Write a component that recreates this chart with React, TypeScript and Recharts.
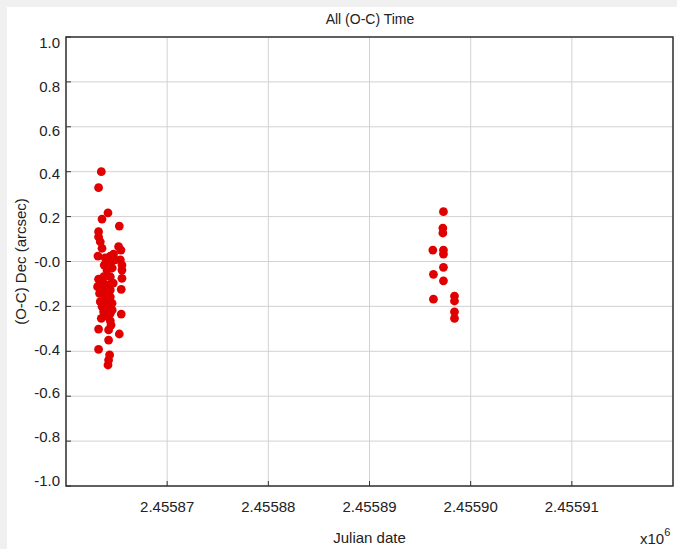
import {
  CartesianGrid, ReferenceArea, Scatter, ScatterChart, XAxis, YAxis,
} from "recharts";

// Julian dates and Dec residuals (arcsec)
const EARLY_JD = [
  2455863.49, 2455863.22, 2455864.15, 2455863.56, 2455865.27, 2455863.22, 2455863.22,
  2455863.39, 2455863.56, 2455865.20, 2455865.43, 2455863.16, 2455864.38, 2455864.70,
  2455864.87, 2455865.37, 2455865.53, 2455864.38, 2455864.05, 2455865.53, 2455865.53,
  2455863.22, 2455863.72, 2455864.38, 2455863.12, 2455863.72, 2455864.21, 2455864.38,
  2455865.46, 2455863.32, 2455863.88, 2455864.38, 2455863.39, 2455864.05, 2455864.55,
  2455863.56, 2455864.21, 2455864.38, 2455865.46, 2455863.72, 2455863.49, 2455864.38,
  2455863.22, 2455864.45, 2455864.21, 2455865.27, 2455864.21, 2455863.22, 2455864.31,
  2455864.21, 2455864.15, 2455863.88, 2455864.18, 2455864.57, 2455863.78, 2455864.08,
  2455864.57, 2455863.98, 2455864.67, 2455863.78,
];
const EARLY_DEC = [
  0.400, 0.329, 0.217, 0.189, 0.158, 0.133, 0.110,
  0.088, 0.059, 0.066, 0.051, 0.024, 0.024, 0.033,
  0.007, 0.007, -0.016, -0.016, -0.038, -0.038, -0.075,
  -0.079, -0.068, -0.068, -0.112, -0.097, -0.105, -0.127,
  -0.124, -0.142, -0.157, -0.157, -0.179, -0.186, -0.186,
  -0.201, -0.213, -0.231, -0.234, -0.224, -0.253, -0.264,
  -0.301, -0.283, -0.305, -0.323, -0.350, -0.391, -0.416,
  -0.439, -0.461, 0.016, -0.002, -0.029, -0.127, -0.171,
  -0.216, -0.243, -0.096, -0.016,
];
const LATE_JD = [
  2455897.31, 2455897.25, 2455897.25, 2455896.26, 2455897.31, 2455897.31, 2455897.31,
  2455896.32, 2455897.31, 2455896.32, 2455898.40, 2455898.40, 2455898.40, 2455898.40,
];
const LATE_DEC = [
  0.222, 0.149, 0.127, 0.051, 0.051, 0.033, -0.026,
  -0.057, -0.086, -0.168, -0.154, -0.176, -0.224, -0.253,
];

const X_DOMAIN = [2455860, 2455920];
const X_TICKS = [2455870, 2455880, 2455890, 2455900, 2455910];
const Y_TICKS = [-1, -0.8, -0.6, -0.4, -0.2, 0, 0.2, 0.4, 0.6, 0.8, 1];
const Y_TICK_LABELS = ["-1.0", "-0.8", "-0.6", "-0.4", "-0.2", "-0.0", "0.2", "0.4", "0.6", "0.8", "1.0"];

const points = [...EARLY_JD.map((jd, i) => ({ jd, dec: EARLY_DEC[i] })),
  ...LATE_JD.map((jd, i) => ({ jd, dec: LATE_DEC[i] }))];

const FONT = "'Liberation Sans', Arial, sans-serif";
const INK = "#333";
const TXT = "#222";

function BottomTick({ x, y, payload }: any) {
  return (
    <g>
      <line x1={x} y1={y} x2={x} y2={y - 5} stroke={INK} />
      <text x={x} y={y + 26} textAnchor="middle" fontSize={15} fontFamily={FONT} fill={TXT}>
        {(payload.value / 1e6).toFixed(5)}
      </text>
    </g>
  );
}

function TopTick({ x, y }: any) {
  return <line x1={x} y1={y} x2={x} y2={y + 5} stroke={INK} />;
}

function LeftTick({ x, y, payload }: any) {
  const i = Y_TICKS.indexOf(payload.value);
  // labels sit a little below their lines near the top, a little above near the bottom
  return (
    <g>
      <line x1={x} y1={y} x2={x + 5} y2={y} stroke={INK} />
      <text x={x - 6} y={y + 5.5 + payload.value * 5.5} textAnchor="end" fontSize={15}
        fontFamily={FONT} fill={TXT}>
        {Y_TICK_LABELS[i]}
      </text>
    </g>
  );
}

function RightTick({ x, y }: any) {
  return <line x1={x} y1={y} x2={x - 5} y2={y} stroke={INK} />;
}

export default function App() {
  return (
    <div style={{ position: "absolute", left: 0, top: 0, width: 677, height: 549, background: "#f0f0f0" }}>
      <div style={{ position: "absolute", left: 7, top: 7, right: 0, bottom: 0, background: "#fff" }} />
      <div style={{ position: "absolute", left: 0, top: 0 }}>
        <ScatterChart width={677} height={549} margin={{ top: 37, right: 4, bottom: 0, left: 0 }}>
          <CartesianGrid stroke="#d2d2d2" />
          <XAxis type="number" dataKey="jd" domain={X_DOMAIN} ticks={X_TICKS} allowDataOverflow
            height={63} tickSize={0} tickMargin={0} tickLine={false} axisLine={false}
            tick={<BottomTick />}
            label={{
              content: ({ viewBox }: any) => (
                <text x={viewBox.x + viewBox.width / 2} y={viewBox.y + 57} textAnchor="middle"
                  fontSize={15} fontFamily={FONT} fill={TXT}>Julian date</text>
              ),
            }} />
          <XAxis xAxisId="top" orientation="top" type="number" domain={X_DOMAIN} ticks={X_TICKS}
            allowDataOverflow height={0} tickSize={0} tickMargin={0} tickLine={false}
            axisLine={false} tick={<TopTick />} />
          <YAxis type="number" dataKey="dec" domain={[-1, 1]} ticks={Y_TICKS} allowDataOverflow
            width={66} tickSize={0} tickMargin={0} tickLine={false} axisLine={false}
            tick={<LeftTick />}
            label={{
              content: ({ viewBox }: any) => {
                const cx = viewBox.x + 20;
                const cy = viewBox.y + viewBox.height / 2;
                return (
                  <text x={cx} y={cy} transform={`rotate(-90 ${cx} ${cy})`} textAnchor="middle"
                    dominantBaseline="central" fontSize={15} fontFamily={FONT} fill={TXT}>
                    (O-C) Dec (arcsec)
                  </text>
                );
              },
            }} />
          <YAxis yAxisId="right" orientation="right" type="number" domain={[-1, 1]} ticks={Y_TICKS}
            allowDataOverflow width={0} tickSize={0} tickMargin={0} tickLine={false}
            axisLine={false} tick={<RightTick />} />
          <ReferenceArea x1={X_DOMAIN[0]} x2={X_DOMAIN[1]} y1={-1} y2={1} fill="none"
            fillOpacity={0} stroke={INK} strokeWidth={1.5} ifOverflow="visible" />
          <Scatter data={points} isAnimationActive={false}
            shape={(p: any) => <circle cx={p.cx} cy={p.cy} r={4.4} fill="#e00000" />} />
        </ScatterChart>
      </div>
      <div style={{ position: "absolute", left: 0, width: 740, top: 11, textAlign: "center",
        fontFamily: FONT, fontSize: 14, color: TXT }}>All (O-C) Time</div>
      <div style={{ position: "absolute", left: 640, top: 530, fontFamily: FONT, fontSize: 15, color: TXT }}>
        x10<sup style={{ fontSize: 11, verticalAlign: 0, position: "relative", top: -8 }}>6</sup>
      </div>
    </div>
  );
}
